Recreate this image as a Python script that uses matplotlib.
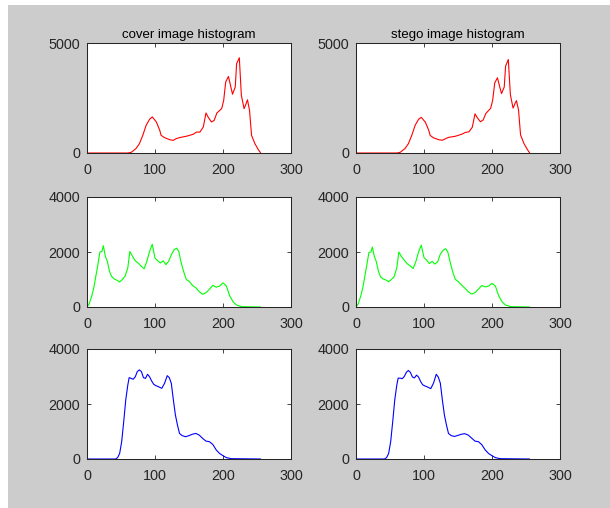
import matplotlib
matplotlib.use("Agg")
import matplotlib.pyplot as plt
from matplotlib.patches import Rectangle

plt.rcParams['font.family'] = ['Liberation Sans', 'DejaVu Sans']

# histogram samples (intensity level, pixel count)
red_x = [0, 60, 65, 72, 77, 82, 87, 92, 96, 102, 107, 109, 114, 122, 127, 131, 136,
         146, 156, 161, 166, 171, 175, 178, 183, 187, 191, 198, 201, 204, 208, 211,
         214, 218, 220, 224, 227, 231, 234, 236, 239, 242, 247, 252, 255]
red_cover = [0, 0, 30, 200, 420, 800, 1260, 1530, 1640, 1410, 1030, 800, 700, 600, 575,
             650, 700, 760, 850, 950, 950, 1180, 1820, 1640, 1410, 1480, 1820, 2015,
             2390, 3230, 3480, 3075, 2670, 3000, 4060, 4330, 2620, 2015, 2240, 2420,
             1940, 800, 420, 150, 20]
red_stego = [0, 0, 30, 200, 420, 800, 1260, 1530, 1620, 1400, 1030, 800, 690, 600, 580,
             640, 710, 760, 860, 940, 960, 1170, 1780, 1620, 1420, 1500, 1800, 2030,
             2400, 3180, 3420, 3050, 2700, 3000, 3950, 4250, 2650, 2040, 2260, 2380,
             1960, 820, 430, 160, 20]

green_x = [0, 3, 7, 10, 13, 16, 19, 22, 24, 27, 30, 33, 36, 40, 45, 48, 52, 56, 60, 63,
           67, 71, 75, 80, 84, 88, 92, 96, 100, 104, 108, 112, 116, 120, 124, 128, 132,
           135, 138, 142, 146, 150, 155, 160, 165, 170, 175, 180, 185, 190, 195, 200,
           205, 210, 215, 220, 228, 255]
green_cover = [0, 100, 400, 700, 1120, 1540, 2000, 2020, 2230, 1840, 1660, 1300, 1120,
               1020, 960, 910, 1000, 1120, 1420, 2020, 1840, 1680, 1600, 1480, 1390, 1660,
               2020, 2280, 1780, 1680, 1600, 1680, 1540, 1660, 1900, 2080, 2140, 2020,
               1660, 1300, 1000, 940, 790, 700, 560, 460, 520, 640, 790, 720, 760, 880,
               760, 400, 180, 70, 12, 0]
green_stego = [0, 100, 400, 700, 1120, 1540, 1980, 2000, 2180, 1840, 1640, 1300, 1100,
               1020, 970, 920, 1000, 1100, 1420, 2000, 1830, 1700, 1580, 1490, 1400, 1650,
               2000, 2250, 1800, 1700, 1580, 1660, 1560, 1640, 1920, 2060, 2120, 2000,
               1680, 1300, 1010, 930, 800, 690, 560, 470, 520, 650, 780, 730, 760, 860,
               760, 400, 180, 70, 12, 0]

blue_x = [0, 42, 45, 48, 51, 54, 57, 60, 62, 65, 68, 71, 74, 77, 80, 83, 86, 89, 92, 95,
          98, 101, 105, 110, 114, 118, 121, 124, 127, 130, 133, 136, 140, 145, 150, 155,
          160, 165, 170, 175, 180, 185, 190, 195, 200, 205, 212, 255]
blue_cover = [0, 0, 50, 200, 630, 1360, 2150, 2690, 2960, 2930, 2900, 2990, 3180, 3240,
              3180, 2960, 2930, 3080, 2990, 2840, 2720, 2670, 2630, 2570, 2750, 3030,
              2960, 2750, 2150, 1600, 1240, 930, 850, 810, 850, 900, 930, 870, 750, 650,
              630, 530, 330, 200, 120, 50, 12, 0]
blue_stego = [0, 0, 50, 200, 630, 1360, 2150, 2690, 2940, 2940, 2920, 3000, 3150, 3220,
              3150, 2980, 2950, 3050, 2980, 2820, 2700, 2660, 2620, 2560, 2760, 3080,
              2980, 2760, 2150, 1600, 1240, 930, 850, 820, 860, 900, 920, 870, 760, 650,
              630, 520, 330, 200, 120, 50, 12, 0]

titles = ['cover image histogram', 'stego image histogram']
x_ticks = [0, 100, 200, 300]
y_ticks_red = [0, 5000]
y_ticks_other = [0, 2000, 4000]

rows = [
    (red_x, red_cover, red_stego, '#ff0000', 5000, y_ticks_red),
    (green_x, green_cover, green_stego, '#00ff00', 4000, y_ticks_other),
    (blue_x, blue_cover, blue_stego, '#0000ff', 4000, y_ticks_other),
]

fig = plt.figure(figsize=(6.10, 5.08), dpi=100, facecolor='white')
fig.patches.append(Rectangle((8 / 610, 0), 1, 503 / 508, transform=fig.transFigure,
                             facecolor='#cccccc', edgecolor='none', zorder=-1))

col_left = [87 / 610, 356 / 610]
row_bottom = [355 / 508, 201 / 508, 49 / 508]
ax_w, ax_h = 204 / 610, 110 / 508
axis_col = '#262626'

for r, (xs, cover, stego, color, ymax, yt) in enumerate(rows):
    for c, ys in enumerate([cover, stego]):
        ax = fig.add_axes([col_left[c], row_bottom[r], ax_w, ax_h])
        ax.plot(xs, ys, color=color, lw=0.8)
        ax.set_xlim(0, 300)
        ax.set_ylim(0, ymax)
        ax.set_xticks(x_ticks)
        ax.set_yticks(yt)
        ax.tick_params(direction='in', length=3, width=0.6, top=True, right=True,
                       labelsize=10.4, labelcolor=axis_col, color=axis_col)
        ax.tick_params(axis='x', pad=7)
        ax.tick_params(axis='y', pad=5)
        for s in ax.spines.values():
            s.set_color(axis_col)
            s.set_linewidth(0.75)
        if r == 0:
            ax.set_title(titles[c], fontsize=9.5, color='black', pad=3.5)

fig.savefig('out.png', dpi=100, facecolor=fig.get_facecolor())
